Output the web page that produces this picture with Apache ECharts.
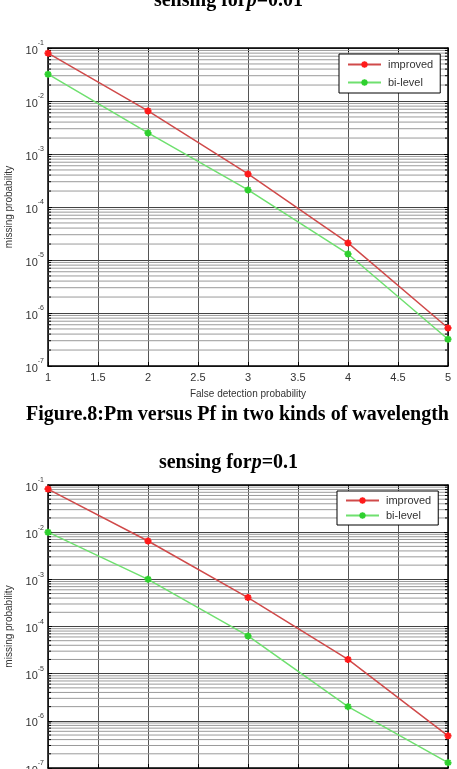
<!DOCTYPE html>
<html>
<head>
<meta charset="utf-8">
<script src="https://cdn.jsdelivr.net/npm/echarts@6/dist/echarts.min.js"></script>
<style>html,body{margin:0;padding:0;background:#fff;}#c{width:457px;height:769px;}</style>
</head>
<body>
<div id="c"></div>
<script>
// ---- data ----
var xValues = [1, 2, 3, 4, 5];
var improvedA = [0.08, 0.0065, 4.2e-4, 2.1e-5, 5.2e-7];
var bilevelA  = [0.032, 0.0025, 2.1e-4, 1.3e-5, 3.2e-7];
var improvedB = [0.082, 0.0065, 4.1e-4, 2.0e-5, 4.8e-7];
var bilevelB  = [0.01, 0.001, 6.3e-5, 2.0e-6, 1.3e-7];
var seriesNames = ['improved', 'bi-level'];
var yMin = 1e-7, yMax = 1e-1;
var xMin = 1, xMax = 5, xStep = 0.5;
var xName = 'False detection probability';
var yName = 'missing probability';

function pairs(xs, ys) { return xs.map(function (x, i) { return [x, ys[i]]; }); }

// minor log grid values (2..9 x 10^k)
var minorVals = [];
for (var e = -7; e < -1; e++) {
  for (var m = 2; m <= 9; m++) minorVals.push(m * Math.pow(10, e));
}

var star = 'path://M0,-5L0,5M-5,0L5,0M-3.6,-3.6L3.6,3.6M-3.6,3.6L3.6,-3.6';
var redLine = '#d04a4a', redMark = '#ff1a1a';
var greenLine = '#6fe06f', greenMark = '#2ed02e';

function yLabel(v) {
  var ex = Math.round(Math.log10(v));
  return '{b|10}{s|' + ex + '}';
}

var grids = [
  { left: 48, top: 48, width: 400, height: 318, outerBoundsMode: 'none', containLabel: false },
  { left: 48, top: 485, width: 400, height: 283, outerBoundsMode: 'none', containLabel: false }
];

var xAxes = [], yAxes = [], series = [];
var datasets = [[improvedA, bilevelA], [improvedB, bilevelB]];

grids.forEach(function (g, gi) {
  xAxes.push({
    type: 'value', gridIndex: gi, min: xMin, max: xMax, interval: xStep,
    name: xName, nameLocation: 'middle', nameGap: 23,
    nameTextStyle: { fontFamily: 'Liberation Sans', fontSize: 10, color: '#333' },
    axisLine: { show: true, onZero: false, lineStyle: { color: '#000', width: 1.5 } },
    axisTick: { show: true, inside: true, length: 4, lineStyle: { color: '#000' } },
    axisLabel: { fontFamily: 'Liberation Sans', fontSize: 11, color: '#333', margin: 6 },
    splitLine: { show: true, lineStyle: { color: '#555', width: 1 } }
  });
  xAxes.push({
    type: 'value', gridIndex: gi, min: xMin, max: xMax, interval: xStep, position: 'top',
    axisLine: { show: true, onZero: false, lineStyle: { color: '#000', width: 1.5 } },
    axisTick: { show: true, inside: true, length: 4, lineStyle: { color: '#000' } },
    axisLabel: { show: false }, splitLine: { show: false }
  });
  yAxes.push({
    type: 'log', logBase: 10, gridIndex: gi, min: yMin, max: yMax,
    name: yName, nameLocation: 'middle', nameGap: 33, nameRotate: 90,
    nameTextStyle: { fontFamily: 'Liberation Sans', fontSize: 10, color: '#333' },
    axisLine: { show: true, onZero: false, lineStyle: { color: '#000', width: 1.5 } },
    axisTick: { show: true, inside: true, length: 4, lineStyle: { color: '#000' } },
    axisLabel: {
      formatter: yLabel, margin: 4,
      rich: {
        b: { fontFamily: 'Liberation Sans', fontSize: 11, color: '#333', verticalAlign: 'bottom', lineHeight: 16 },
        s: { fontFamily: 'Liberation Sans', fontSize: 7, color: '#333', verticalAlign: 'top', lineHeight: 16 }
      }
    },
    splitLine: { show: true, lineStyle: { color: '#444', width: 1.2 } }
  });
  yAxes.push({
    type: 'log', logBase: 10, gridIndex: gi, min: yMin, max: yMax, position: 'right',
    axisLine: { show: true, onZero: false, lineStyle: { color: '#000', width: 1.5 } },
    axisTick: { show: true, inside: true, length: 4, lineStyle: { color: '#000' } },
    axisLabel: { show: false }, splitLine: { show: false }
  });

  series.push({
    type: 'custom', name: '_minor' + gi, xAxisIndex: gi * 2, yAxisIndex: gi * 2,
    silent: true, z: 1, clip: true,
    data: minorVals.map(function (v) { return [xMin, v]; }),
    renderItem: function (params, api) {
      var v = api.value(1);
      var p1 = api.coord([xMin, v]);
      var p2 = api.coord([xMax, v]);
      return {
        type: 'group',
        children: [
          { type: 'line', shape: { x1: p1[0], y1: p1[1], x2: p2[0], y2: p2[1] },
            style: { stroke: '#9a9a9a', lineWidth: 1 } },
          { type: 'line', shape: { x1: p1[0], y1: p1[1], x2: p1[0] + 3, y2: p1[1] },
            style: { stroke: '#000', lineWidth: 1 } },
          { type: 'line', shape: { x1: p2[0] - 3, y1: p2[1], x2: p2[0], y2: p2[1] },
            style: { stroke: '#000', lineWidth: 1 } }
        ]
      };
    }
  });
  series.push({
    type: 'line', name: seriesNames[0], xAxisIndex: gi * 2, yAxisIndex: gi * 2, z: 5,
    data: pairs(xValues, datasets[gi][0]),
    symbol: star, symbolSize: 7,
    lineStyle: { color: redLine, width: 1.5 },
    itemStyle: { color: redMark, borderColor: redMark, borderWidth: 2 }
  });
  series.push({
    type: 'line', name: seriesNames[1], xAxisIndex: gi * 2, yAxisIndex: gi * 2, z: 5,
    data: pairs(xValues, datasets[gi][1]),
    symbol: star, symbolSize: 7,
    lineStyle: { color: greenLine, width: 1.5 },
    itemStyle: { color: greenMark, borderColor: greenMark, borderWidth: 2 }
  });
});

function legendAt(left, top, gap, padV) {
  return {
    data: seriesNames, orient: 'vertical', backgroundColor: '#fff',
    left: left, top: top,
    borderColor: '#000', borderWidth: 1, padding: [padV, 7, padV, 8], itemGap: gap,
    itemWidth: 33, itemHeight: 8,
    textStyle: { fontFamily: 'Liberation Sans', fontSize: 11, color: '#333', padding: [0, 0, 0, 2] }
  };
}

var titleRich = {
  b: { fontFamily: 'Liberation Serif', fontSize: 20, fontWeight: 'bold', color: '#000' },
  i: { fontFamily: 'Liberation Serif', fontSize: 20, fontWeight: 'bold', fontStyle: 'italic', color: '#000' }
};

var option = {
  animation: false,
  backgroundColor: '#fff',
  title: [
    { text: '{b|sensing for}{i|p}{b|=0.01}', left: 'center', top: -9, padding: 0, textStyle: { rich: titleRich } },
    { text: '{b|Figure.8:Pm versus Pf in two kinds of wavelength}', left: 26, top: 405, padding: 0, textStyle: { rich: titleRich } },
    { text: '{b|sensing for}{i|p}{b|=0.1}', left: 'center', top: 453, padding: 0, textStyle: { rich: titleRich } }
  ],
  legend: [legendAt(339, 54, 7, 5), legendAt(337, 491, 4, 4)],
  grid: grids,
  xAxis: xAxes,
  yAxis: yAxes,
  series: series
};

var chart = echarts.init(document.getElementById('c'), null, { renderer: 'canvas' });
chart.setOption(option);
</script>
</body>
</html>
